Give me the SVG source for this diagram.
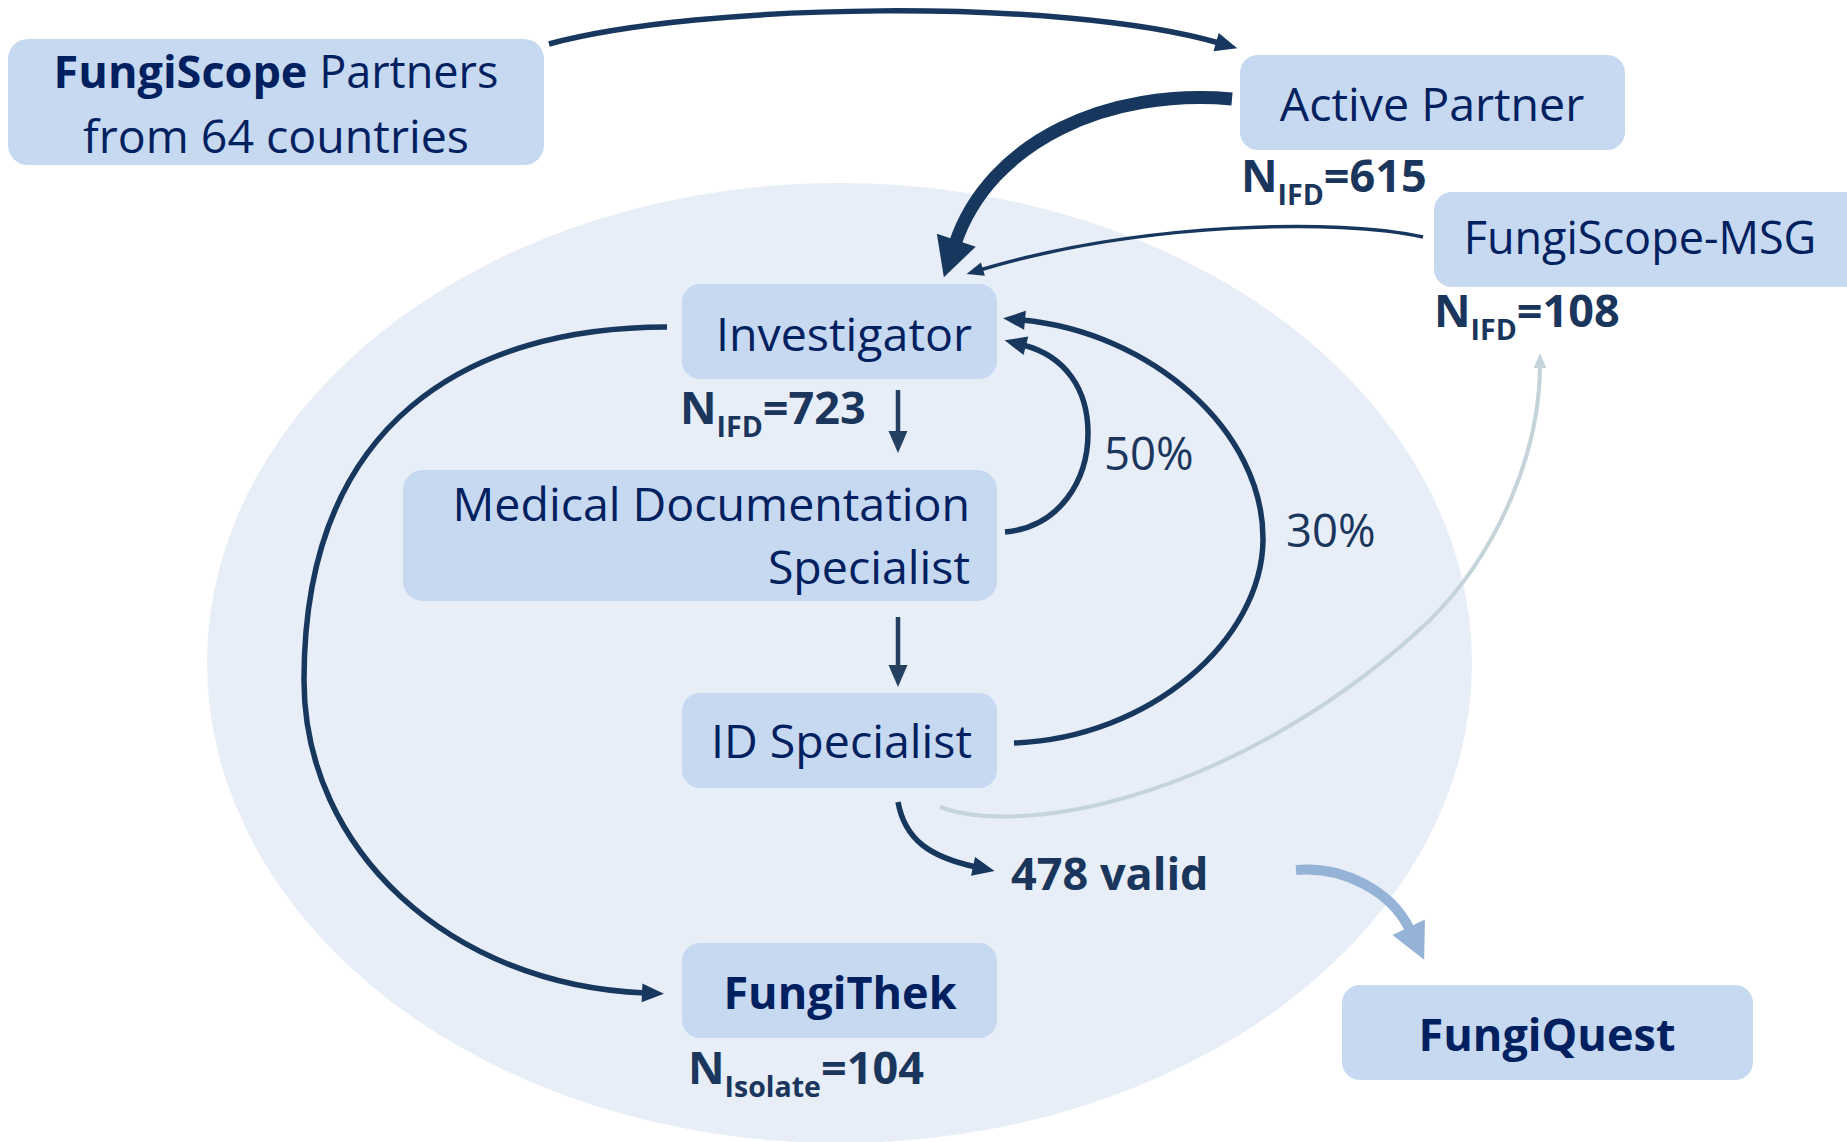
<svg xmlns="http://www.w3.org/2000/svg" width="1847" height="1142" viewBox="0 0 1847 1142">
  <style>
    .box { fill: #c6d9f1; }
    .bt { font-family: "Open Sans", "Noto Sans", sans-serif; font-size: 46.5px; fill: #002060; }
    .b { font-weight: bold; }
    .lbl { font-family: "Open Sans", "Noto Sans", sans-serif; font-size: 45px; font-weight: bold; fill: #1b365d; }
    .pct { font-family: "Open Sans", "Noto Sans", sans-serif; font-size: 45.5px; fill: #1b365d; }
    .sub { font-size: 28.5px; }
    .con { fill: none; stroke: #17375e; stroke-width: 5.5; }
  </style>
  <defs>
    <marker id="hMed" markerUnits="userSpaceOnUse" markerWidth="24" markerHeight="20" refX="3" refY="9.5" orient="auto" overflow="visible">
      <path d="M0,0 L22,9.5 L0,19 Z" fill="#17375e"/>
    </marker>
    <marker id="hDown" markerUnits="userSpaceOnUse" markerWidth="24" markerHeight="20" refX="3" refY="9.5" orient="auto" overflow="visible">
      <path d="M0,0 L22,9.5 L0,19 Z" fill="#243f60"/>
    </marker>
    <marker id="hBig" markerUnits="userSpaceOnUse" markerWidth="40" markerHeight="42" refX="4" refY="20.5" orient="auto" overflow="visible">
      <path d="M0,0 L39,20.5 L0,41 Z" fill="#17375e"/>
    </marker>
    <marker id="hSmall" markerUnits="userSpaceOnUse" markerWidth="18" markerHeight="14" refX="3" refY="7" orient="auto" overflow="visible">
      <path d="M0,0 L17,7 L0,14 Z" fill="#17375e"/>
    </marker>
    <marker id="hGray" markerUnits="userSpaceOnUse" markerWidth="17" markerHeight="14" refX="3" refY="6.5" orient="auto" overflow="visible">
      <path d="M0,0 L15,6.5 L0,13 Z" fill="#c5d4da"/>
    </marker>
    <marker id="hLight" markerUnits="userSpaceOnUse" markerWidth="38" markerHeight="38" refX="3" refY="18" orient="auto" overflow="visible">
      <path d="M0,0 L36,18 L0,36 Z" fill="#95b3d7"/>
    </marker>
  </defs>

  <!-- background region -->
  <ellipse cx="839.5" cy="663" rx="632.5" ry="480" fill="#e7eef7"/>

  <!-- nodes -->
  <g id="partners">
    <rect class="box" x="8" y="39" width="536" height="126" rx="20"/>
    <text class="bt" style="font-size:45px" x="276" y="88" text-anchor="middle"><tspan class="b">FungiScope</tspan> Partners</text>
    <text class="bt" x="276" y="153" text-anchor="middle">from 64 countries</text>
  </g>
  <g id="active-partner">
    <rect class="box" x="1240" y="55" width="385" height="95" rx="18"/>
    <text class="bt" x="1432" y="121" text-anchor="middle">Active Partner</text>
    <text class="lbl" x="1241" y="192">N<tspan class="sub" dy="13">IFD</tspan><tspan dy="-13">=615</tspan></text>
  </g>
  <g id="msg">
    <rect class="box" x="1434" y="192" width="430" height="95" rx="18"/>
    <text class="bt" style="font-size:45px" x="1640" y="254" text-anchor="middle">FungiScope-MSG</text>
    <text class="lbl" x="1434" y="327">N<tspan class="sub" dy="13">IFD</tspan><tspan dy="-13">=108</tspan></text>
  </g>
  <g id="investigator">
    <rect class="box" x="682" y="284" width="315" height="95" rx="18"/>
    <text class="bt" x="972" y="351" text-anchor="end">Investigator</text>
    <text class="lbl" x="680" y="424">N<tspan class="sub" dy="13">IFD</tspan><tspan dy="-13">=723</tspan></text>
  </g>
  <g id="med-doc">
    <rect class="box" x="403" y="470" width="594" height="131" rx="20"/>
    <text class="bt" x="970" y="521" text-anchor="end">Medical Documentation</text>
    <text class="bt" x="970" y="584" text-anchor="end">Specialist</text>
  </g>
  <g id="id-specialist">
    <rect class="box" x="682" y="693" width="315" height="95" rx="18"/>
    <text class="bt" x="972" y="758" text-anchor="end">ID Specialist</text>
  </g>
  <g id="fungithek">
    <rect class="box" x="682" y="943" width="315" height="95" rx="18"/>
    <text class="bt b" style="font-size:45px" x="840" y="1009" text-anchor="middle">FungiThek</text>
    <text class="lbl" x="688" y="1084">N<tspan class="sub" dy="13">Isolate</tspan><tspan dy="-13">=104</tspan></text>
  </g>
  <g id="fungiquest">
    <rect class="box" x="1342" y="985" width="411" height="95" rx="18"/>
    <text class="bt b" style="font-size:45px" x="1547" y="1051" text-anchor="middle">FungiQuest</text>
  </g>
  <g id="valid">
    <text class="lbl" x="1011" y="890">478 valid</text>
  </g>
  <g id="rates">
    <text class="pct" x="1104" y="470">50%</text>
    <text class="pct" x="1286" y="547">30%</text>
  </g>

  <!-- connectors -->
  <g id="connectors">
    <path class="con" d="M549,44 C700,3 1060,-3 1219,43" marker-end="url(#hMed)"/>
    <path class="con" style="stroke-width:13" d="M1232,99 C1110,88 990,140 955,244" marker-end="url(#hBig)"/>
    <path class="con" style="stroke-width:3.5" d="M1423,237 C1340,218 1140,222 980,270" marker-end="url(#hSmall)"/>
    <path class="con" d="M667,327 C470,327 304,420 304,680 C304,850 450,985 645,993" marker-end="url(#hMed)"/>
    <path class="con" d="M1005,532 C1060,527 1088,480 1088,433 C1088,390 1066,356 1023,345" marker-end="url(#hMed)"/>
    <path class="con" d="M1014,743 C1150,738 1262,640 1263,540 C1264,430 1150,332 1022,320" marker-end="url(#hMed)"/>
    <path class="con" style="stroke:#243f60;stroke-width:4.5" d="M898,390 L898,434" marker-end="url(#hDown)"/>
    <path class="con" style="stroke:#243f60;stroke-width:4.5" d="M898,617 L898,668" marker-end="url(#hDown)"/>
    <path class="con" d="M898,802 C905,840 930,857 976,867" marker-end="url(#hMed)"/>
    <path class="con" style="stroke:#c5d4da;stroke-width:4" d="M940,807 C1030,840 1250,790 1430,620 C1500,550 1540,450 1540,365" marker-end="url(#hGray)"/>
    <path class="con" style="stroke:#95b3d7;stroke-width:10" d="M1296,870 C1345,866 1392,892 1410,930" marker-end="url(#hLight)"/>
  </g>
</svg>
